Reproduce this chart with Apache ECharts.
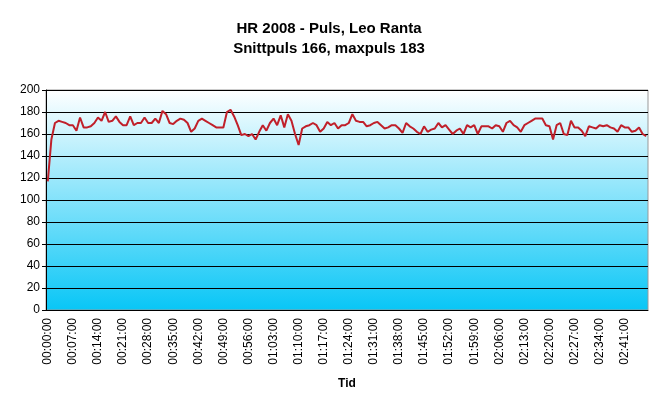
<!DOCTYPE html>
<html>
<head>
    <meta charset="utf-8">
    <title>HR 2008 - Puls, Leo Ranta</title>
    <script src="https://cdn.jsdelivr.net/npm/echarts@6/dist/echarts.min.js"></script>
</head>
<body style="margin:0">
    <div id="main" style="width:658px; height:405px"></div>
    <script type="text/javascript">
        var myChart = echarts.init(document.getElementById('main'));

        // puls per minut
        var pulse = [
            117, 155, 170, 172, 171, 170, 168, 168, 163, 175,
            166, 166, 167, 170, 175, 172, 180, 171, 172, 176,
            171, 168, 168, 176, 168, 170, 170, 175, 170, 170,
            174, 170, 181, 178, 170, 169, 172, 174, 173, 170,
            162, 165, 172, 174, 172, 170, 168, 166, 166, 166,
            180, 182, 176, 168, 159, 160, 158, 160, 155, 162,
            168, 163, 170, 174, 168, 177, 166, 178, 172, 160,
            150, 165, 167, 168, 170, 168, 162, 165, 171, 168,
            170, 165, 168, 168, 170, 178, 172, 171, 171, 167,
            168, 170, 171, 168, 165, 166, 168, 168, 165, 161,
            170, 167, 165, 162, 160, 167, 162, 164, 165, 170,
            166, 168, 164, 160, 163, 165, 160, 168, 166, 168,
            160, 167, 167, 167, 165, 168, 167, 162, 170, 172,
            168, 166, 162, 168, 170, 172, 174, 174, 174, 168,
            167, 155, 168, 170, 160, 159, 172, 166, 166, 163,
            158, 167, 166, 165, 168, 167, 168, 166, 165, 162,
            168, 166, 166, 162, 163, 166, 160, 158
        ];

        function pad(n) { return (n < 10 ? '0' : '') + n; }
        var times = pulse.map(function (v, i) {
            return pad(Math.floor(i / 60)) + ':' + pad(i % 60) + ':00';
        });

        var option = {
            title: {
                text: 'HR 2008 - Puls, Leo Ranta\nSnittpuls 166, maxpuls 183',
                left: 'center',
                top: 14,
                textStyle: { fontFamily: 'Liberation Sans', fontSize: 15, fontWeight: 'bold', color: '#000', lineHeight: 20 }
            },
            grid: {
                left: 46, right: 10, top: 90, bottom: 95,
                show: true,
                borderColor: '#999',
                borderWidth: 1,
                backgroundColor: new echarts.graphic.LinearGradient(0, 0, 0, 1, [
                    { offset: 0, color: '#ffffff' },
                    { offset: 1, color: '#08c6f6' }
                ])
            },
            xAxis: {
                type: 'category',
                data: times,
                boundaryGap: true,
                name: 'Tid',
                nameLocation: 'middle',
                nameGap: 68,
                nameTextStyle: { fontFamily: 'Liberation Sans', fontSize: 12, fontWeight: 'bold', color: '#000' },
                axisLine: { lineStyle: { color: '#000' } },
                axisTick: { interval: 0, length: 4, lineStyle: { color: '#000' } },
                axisLabel: {
                    interval: 6, rotate: 90,
                    fontFamily: 'Liberation Sans', fontSize: 12, color: '#000'
                },
                splitLine: { show: false }
            },
            yAxis: {
                type: 'value',
                min: 0, max: 200, interval: 20,
                axisLine: { show: true, lineStyle: { color: '#000' } },
                axisTick: { show: true, length: 4, lineStyle: { color: '#000' } },
                axisLabel: { fontFamily: 'Liberation Sans', fontSize: 12, color: '#000', margin: 6 },
                splitLine: { lineStyle: { color: '#000', width: 1 } }
            },
            series: [{
                type: 'line',
                data: pulse,
                showSymbol: false,
                lineStyle: { color: '#c0202a', width: 2 },
                animation: false
            }]
        };

        myChart.setOption(option);
    </script>
</body>
</html>
